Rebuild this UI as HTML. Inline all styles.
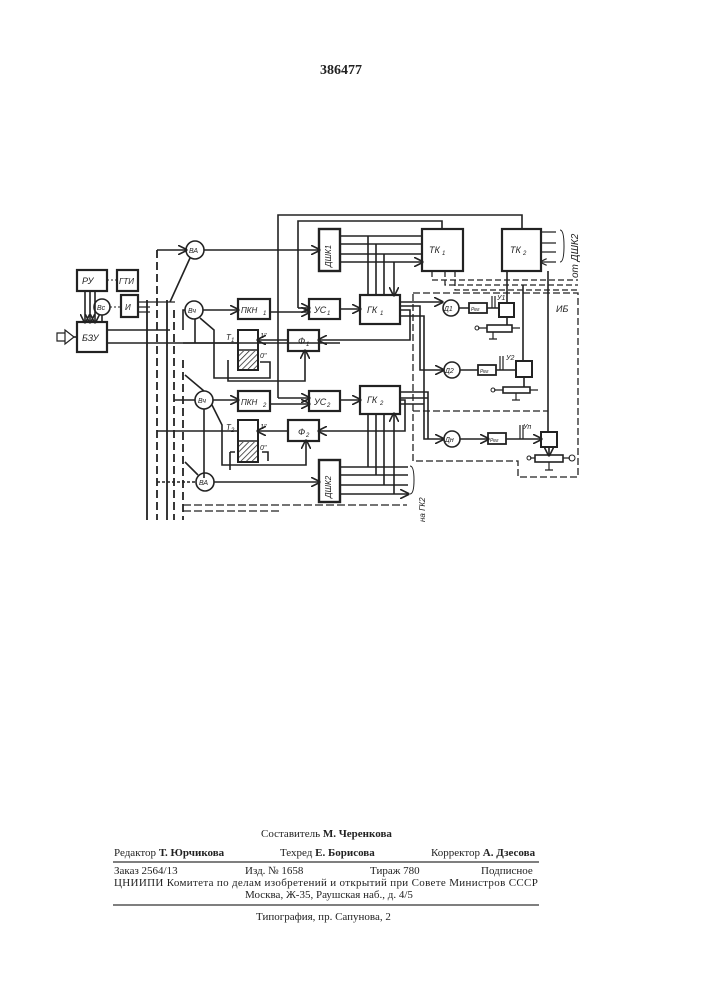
<!DOCTYPE html>
<html><head><meta charset="utf-8"><style>
html,body{margin:0;padding:0;background:#fff;}
body{width:707px;height:1000px;position:relative;overflow:hidden;font-family:"Liberation Serif",serif;color:#222;}
.t{position:absolute;font-size:11px;white-space:nowrap;}
</style></head><body>
<div class="t" style="left:320px;top:63px;font-size:14px;font-weight:bold;">386477</div>

<svg width="707" height="1000" style="position:absolute;left:0;top:0" xmlns="http://www.w3.org/2000/svg">
<defs>
<pattern id="h" width="4" height="4" patternUnits="userSpaceOnUse" patternTransform="rotate(45)"><line x1="0" y1="0" x2="0" y2="4" stroke="#222" stroke-width="1.5"/></pattern>
<marker id="a" markerWidth="6" markerHeight="6" refX="5" refY="3" orient="auto"><path d="M0,0 L6,3 L0,6" fill="none" stroke="#222" stroke-width="1"/></marker>
</defs>
<g stroke="#222" stroke-width="1.6" fill="none" font-family="Liberation Sans, sans-serif" font-style="italic" font-size="9">
<rect x="77" y="270" width="30" height="21" stroke-width="2.2"/>
<rect x="117" y="270" width="21" height="21" stroke-width="2.2"/>
<rect x="121" y="295" width="17" height="22" stroke-width="2.2"/>
<circle cx="102" cy="307" r="8"/>
<rect x="77" y="322" width="30" height="30" stroke-width="2.2"/>
<path d="M57,333 h8 v8 h-8 z M65,330 l9,7 l-9,7 z" stroke-width="1.2"/>
<line x1="74" y1="337" x2="77" y2="337"/>
<line x1="85" y1="291" x2="85" y2="322" marker-end="url(#a)"/>
<line x1="90" y1="291" x2="90" y2="322" marker-end="url(#a)"/>
<line x1="95" y1="291" x2="95" y2="322" marker-end="url(#a)"/>
<line x1="117" y1="280" x2="108" y2="280" stroke-dasharray="2,2" stroke-width="1"/>
<line x1="102" y1="315" x2="102" y2="322"/>
<line x1="110" y1="307" x2="121" y2="307" stroke-dasharray="2,2" stroke-width="1"/>
<path d="M107,330 H170 M107,343 H340"/>
<g stroke-width="1.8">
<line x1="147" y1="300" x2="147" y2="520" />
<line x1="157" y1="250" x2="157" y2="520" stroke-dasharray="8,4"/>
<line x1="167" y1="300" x2="167" y2="520" />
<line x1="174" y1="310" x2="174" y2="520" stroke-dasharray="8,4"/>
<line x1="183" y1="360" x2="183" y2="520" stroke-dasharray="8,4"/>
</g>
<path d="M138,302 H175 M138,307 H150 M138,312 H150" stroke-width="1.2"/>
<path d="M157,250 H186" marker-end="url(#a)"/>
<path d="M170,302 L190,258"/>
<circle cx="195" cy="250" r="9"/>
<line x1="204" y1="250" x2="319" y2="250" marker-end="url(#a)"/>
<path d="M278,398 V215 H522 V229"/>
<path d="M298,308 V221 H442 V229"/>
<path d="M298,308 H309" marker-end="url(#a)"/>
<rect x="319" y="229" width="21" height="42" stroke-width="2.4"/>
<rect x="422" y="229" width="41" height="42" stroke-width="2.2"/>
<rect x="502" y="229" width="39" height="42" stroke-width="2.2"/>
<path d="M340,236 H422 M340,244 H422 M340,254 H422 M340,262 H422" marker-end="url(#a)"/>
<path d="M368,236 V295 M376,244 V295 M384,254 V295 M394,262 V295" marker-end="url(#a)"/>
<path d="M556,232 H541 M556,243 H541 M556,252 H541 M556,262 H541" marker-end="url(#a)" stroke-width="1.2"/>
<path d="M560,230 q4,0 4,16 q0,16 -4,16" stroke-width="1"/>
<path d="M432,271 V280 H578 M445,271 V285 H578 M455,271 V290 H578" stroke-dasharray="6,3" stroke-width="1.3"/>
<circle cx="194" cy="310" r="9"/>
<path d="M183,330 V310 H185"/>
<line x1="203" y1="310" x2="238" y2="310" marker-end="url(#a)"/>
<rect x="238" y="299" width="32" height="20" stroke-width="2.2"/>
<path d="M270,312 H309" marker-end="url(#a)"/>
<rect x="309" y="299" width="31" height="20" stroke-width="2.2"/>
<path d="M340,309 H360" marker-end="url(#a)"/>
<rect x="360" y="295" width="40" height="29" stroke-width="2.2"/>
<rect x="238" y="330" width="20" height="40" stroke-width="2"/>
<rect x="239" y="351" width="18" height="18" fill="url(#h)" stroke="none"/>
<line x1="238" y1="350" x2="258" y2="350"/>
<path d="M183,343 H238" />
<path d="M195,319 V343"/>
<path d="M200,318 L214,330 V378 H270 V362 H260" />
<path d="M228,360 V381 H305 V351" marker-end="url(#a)"/>
<path d="M288,340 H258" marker-end="url(#a)"/>
<rect x="288" y="330" width="31" height="21" stroke-width="2.2"/>
<path d="M400,310 H410 V340 H319" marker-end="url(#a)"/>
<circle cx="204" cy="400" r="9"/>
<path d="M174,400 H195" />
<path d="M213,400 H238" marker-end="url(#a)"/>
<rect x="238" y="391" width="32" height="20" stroke-width="2.2"/>
<path d="M270,404 H309" marker-end="url(#a)"/>
<path d="M278,398 H309" marker-end="url(#a)"/>
<rect x="309" y="391" width="31" height="20" stroke-width="2.2"/>
<path d="M340,400 H360" marker-end="url(#a)"/>
<rect x="360" y="386" width="40" height="28" stroke-width="2.2"/>
<rect x="238" y="420" width="20" height="42" stroke-width="2"/>
<rect x="239" y="442" width="18" height="19" fill="url(#h)" stroke="none"/>
<line x1="238" y1="441" x2="258" y2="441"/>
<path d="M157,431 H238"/>
<path d="M212,405 L222,425 V465 H306 V441" marker-end="url(#a)"/>
<path d="M230,452 V470 M230,452 H235 M262,452 H268 V461" />
<path d="M288,431 H258" marker-end="url(#a)"/>
<rect x="288" y="420" width="31" height="21" stroke-width="2.2"/>
<path d="M400,400 H405 V431 H319" marker-end="url(#a)"/>
<path d="M185,375 L204,391 M204,409 V478"/>
<circle cx="205" cy="482" r="9"/>
<path d="M157,482 H196" stroke-dasharray="3,2"/>
<path d="M214,482 H319" marker-end="url(#a)"/>
<path d="M185,462 L198,475"/>
<rect x="319" y="460" width="21" height="42" stroke-width="2.4"/>
<path d="M340,467 H408 M340,475 H408 M340,485 H408 M340,494 H408" marker-end="url(#a)"/>
<path d="M368,467 V414 M376,475 V414 M384,485 V414 M394,494 V414" marker-end="url(#a)"/>
<path d="M410,466 q4,0 4,14 q0,14 -4,14" stroke-width="1"/>
<path d="M183,505 H407 M183,511 H280" stroke-dasharray="8,3" stroke-width="1.3"/>
<path d="M400,302 H442" marker-end="url(#a)"/>
<path d="M400,306 H420 V370 H443" marker-end="url(#a)"/>
<path d="M400,316 H424 V439 H443" marker-end="url(#a)"/>
<path d="M400,392 H428 V439 M400,398 H428 M400,404 H424"/>
<path d="M413,293 H578 V477 H518 V461 H413 Z" stroke-dasharray="7,3" stroke-width="1.3"/>
<path d="M413,411 H548" stroke-dasharray="7,3" stroke-width="1.3"/>
<circle cx="451" cy="308" r="8"/>
<circle cx="452" cy="370" r="8"/>
<circle cx="452" cy="439" r="8"/>
<path d="M459,308 H469 M460,370 H478 M460,439 H488" marker-end="url(#a)"/>
<rect x="469" y="303" width="18" height="10" stroke-width="1.8"/>
<rect x="478" y="365" width="18" height="10" stroke-width="1.8"/>
<rect x="488" y="433" width="18" height="11" stroke-width="1.8"/>
<path d="M487,308 H499 M496,370 H516 M506,439 H541" marker-end="url(#a)"/>
<path d="M492,308 V296 M495,308 V296 M500,370 V356 M503,370 V356 M520,439 V425 M523,439 V425" stroke-width="1.2"/>
<rect x="499" y="303" width="15" height="14" stroke-width="2"/>
<rect x="516" y="361" width="16" height="16" stroke-width="2"/>
<rect x="541" y="432" width="16" height="15" stroke-width="2"/>
<path d="M507,271 V303 M523,285 V361 M548,271 V432" />
<path d="M507,317 V325 M524,377 V387 M549,447 V455" marker-end="url(#a)"/>
<rect x="487" y="325" width="25" height="7" stroke-width="1.6"/>
<rect x="503" y="387" width="27" height="6" stroke-width="1.6"/>
<rect x="535" y="455" width="28" height="7" stroke-width="1.6"/>
<path d="M478,328 H487 M512,328 H520 M493,332 V339 M489,339 H497 M494,390 H503 M530,390 H538 M516,393 V400 M512,400 H520 M530,458 H535 M563,458 H570 M549,462 V470 M545,470 H553" stroke-width="1.2"/>
<circle cx="477" cy="328" r="2" stroke-width="1"/>
<circle cx="493" cy="390" r="2" stroke-width="1"/>
<circle cx="529" cy="458" r="2" stroke-width="1"/>
<circle cx="572" cy="458" r="3" stroke-width="1"/>
</g>
<g font-family="Liberation Sans, sans-serif" font-style="italic" font-size="9" fill="#222">
<text x="82" y="284">РУ</text><text x="119" y="284" font-size="8">ГТИ</text>
<text x="97" y="310" font-size="7">Вс</text><text x="125" y="310" font-size="8">И</text>
<text x="82" y="341">БЗУ</text><text x="189" y="253" font-size="7">ВА</text>
<text x="188" y="313" font-size="7">Вч</text><text x="198" y="403" font-size="7">Вч</text><text x="199" y="485" font-size="7">ВА</text>
<text x="241" y="313" font-size="8">ПКН</text><text x="263" y="315" font-size="6">1</text>
<text x="241" y="405" font-size="8">ПКН</text><text x="263" y="407" font-size="6">2</text>
<text x="314" y="313">УС</text><text x="327" y="315" font-size="6">1</text>
<text x="314" y="405">УС</text><text x="327" y="407" font-size="6">2</text>
<text x="367" y="313">ГК</text><text x="380" y="315" font-size="6">1</text>
<text x="367" y="403">ГК</text><text x="380" y="405" font-size="6">2</text>
<text x="429" y="253">ТК</text><text x="442" y="255" font-size="6">1</text>
<text x="510" y="253">ТК</text><text x="523" y="255" font-size="6">2</text>
<text x="298" y="344">Ф</text><text x="306" y="346" font-size="6">1</text>
<text x="298" y="435">Ф</text><text x="306" y="437" font-size="6">2</text>
<text x="226" y="340" font-size="8">Т</text><text x="231" y="342" font-size="6">1</text>
<text x="226" y="430" font-size="8">Т</text><text x="231" y="432" font-size="6">2</text>
<text x="260" y="338" font-size="7">1"</text><text x="260" y="358" font-size="7">0"</text>
<text x="260" y="429" font-size="7">1"</text><text x="260" y="450" font-size="7">0"</text>
<text x="444" y="311" font-size="7">Д1</text><text x="445" y="373" font-size="7">Д2</text><text x="445" y="442" font-size="7">Дн</text>
<text x="471" y="311" font-size="5">Рег</text><text x="480" y="373" font-size="5">Рег</text><text x="490" y="442" font-size="5">Рег</text>
<text x="497" y="300" font-size="7">У1</text><text x="506" y="360" font-size="7">У2</text><text x="523" y="429" font-size="7">Уп</text>
<text x="556" y="312" font-size="9">ИБ</text>
<text transform="translate(331,267) rotate(-90)" font-size="8">ДШК1</text>
<text transform="translate(331,498) rotate(-90)" font-size="8">ДШК2</text>
<text transform="translate(578,278) rotate(-90)" font-size="10">от ДШК2</text>
<text transform="translate(425,522) rotate(-90)" font-size="8">на ГК2</text>
</g>
<g stroke="#333" stroke-width="1.3"><line x1="113" y1="862" x2="539" y2="862"/><line x1="113" y1="905" x2="539" y2="905"/></g>
</svg>

<div class="t" style="left:261px;top:828px;">Составитель <b>М. Черенкова</b></div>
<div class="t" style="left:114px;top:847px;">Редактор <b>Т. Юрчикова</b></div>
<div class="t" style="left:280px;top:847px;">Техред <b>Е. Борисова</b></div>
<div class="t" style="left:431px;top:847px;">Корректор <b>А. Дзесова</b></div>
<div class="t" style="left:114px;top:865px;">Заказ 2564/13</div>
<div class="t" style="left:245px;top:865px;">Изд. № 1658</div>
<div class="t" style="left:370px;top:865px;">Тираж 780</div>
<div class="t" style="left:481px;top:865px;">Подписное</div>
<div class="t" style="left:114px;top:877px;letter-spacing:0.33px;">ЦНИИПИ Комитета по делам изобретений и открытий при Совете Министров СССР</div>
<div class="t" style="left:245px;top:889px;">Москва, Ж-35, Раушская наб., д. 4/5</div>
<div class="t" style="left:256px;top:911px;">Типография, пр. Сапунова, 2</div>
</body></html>
